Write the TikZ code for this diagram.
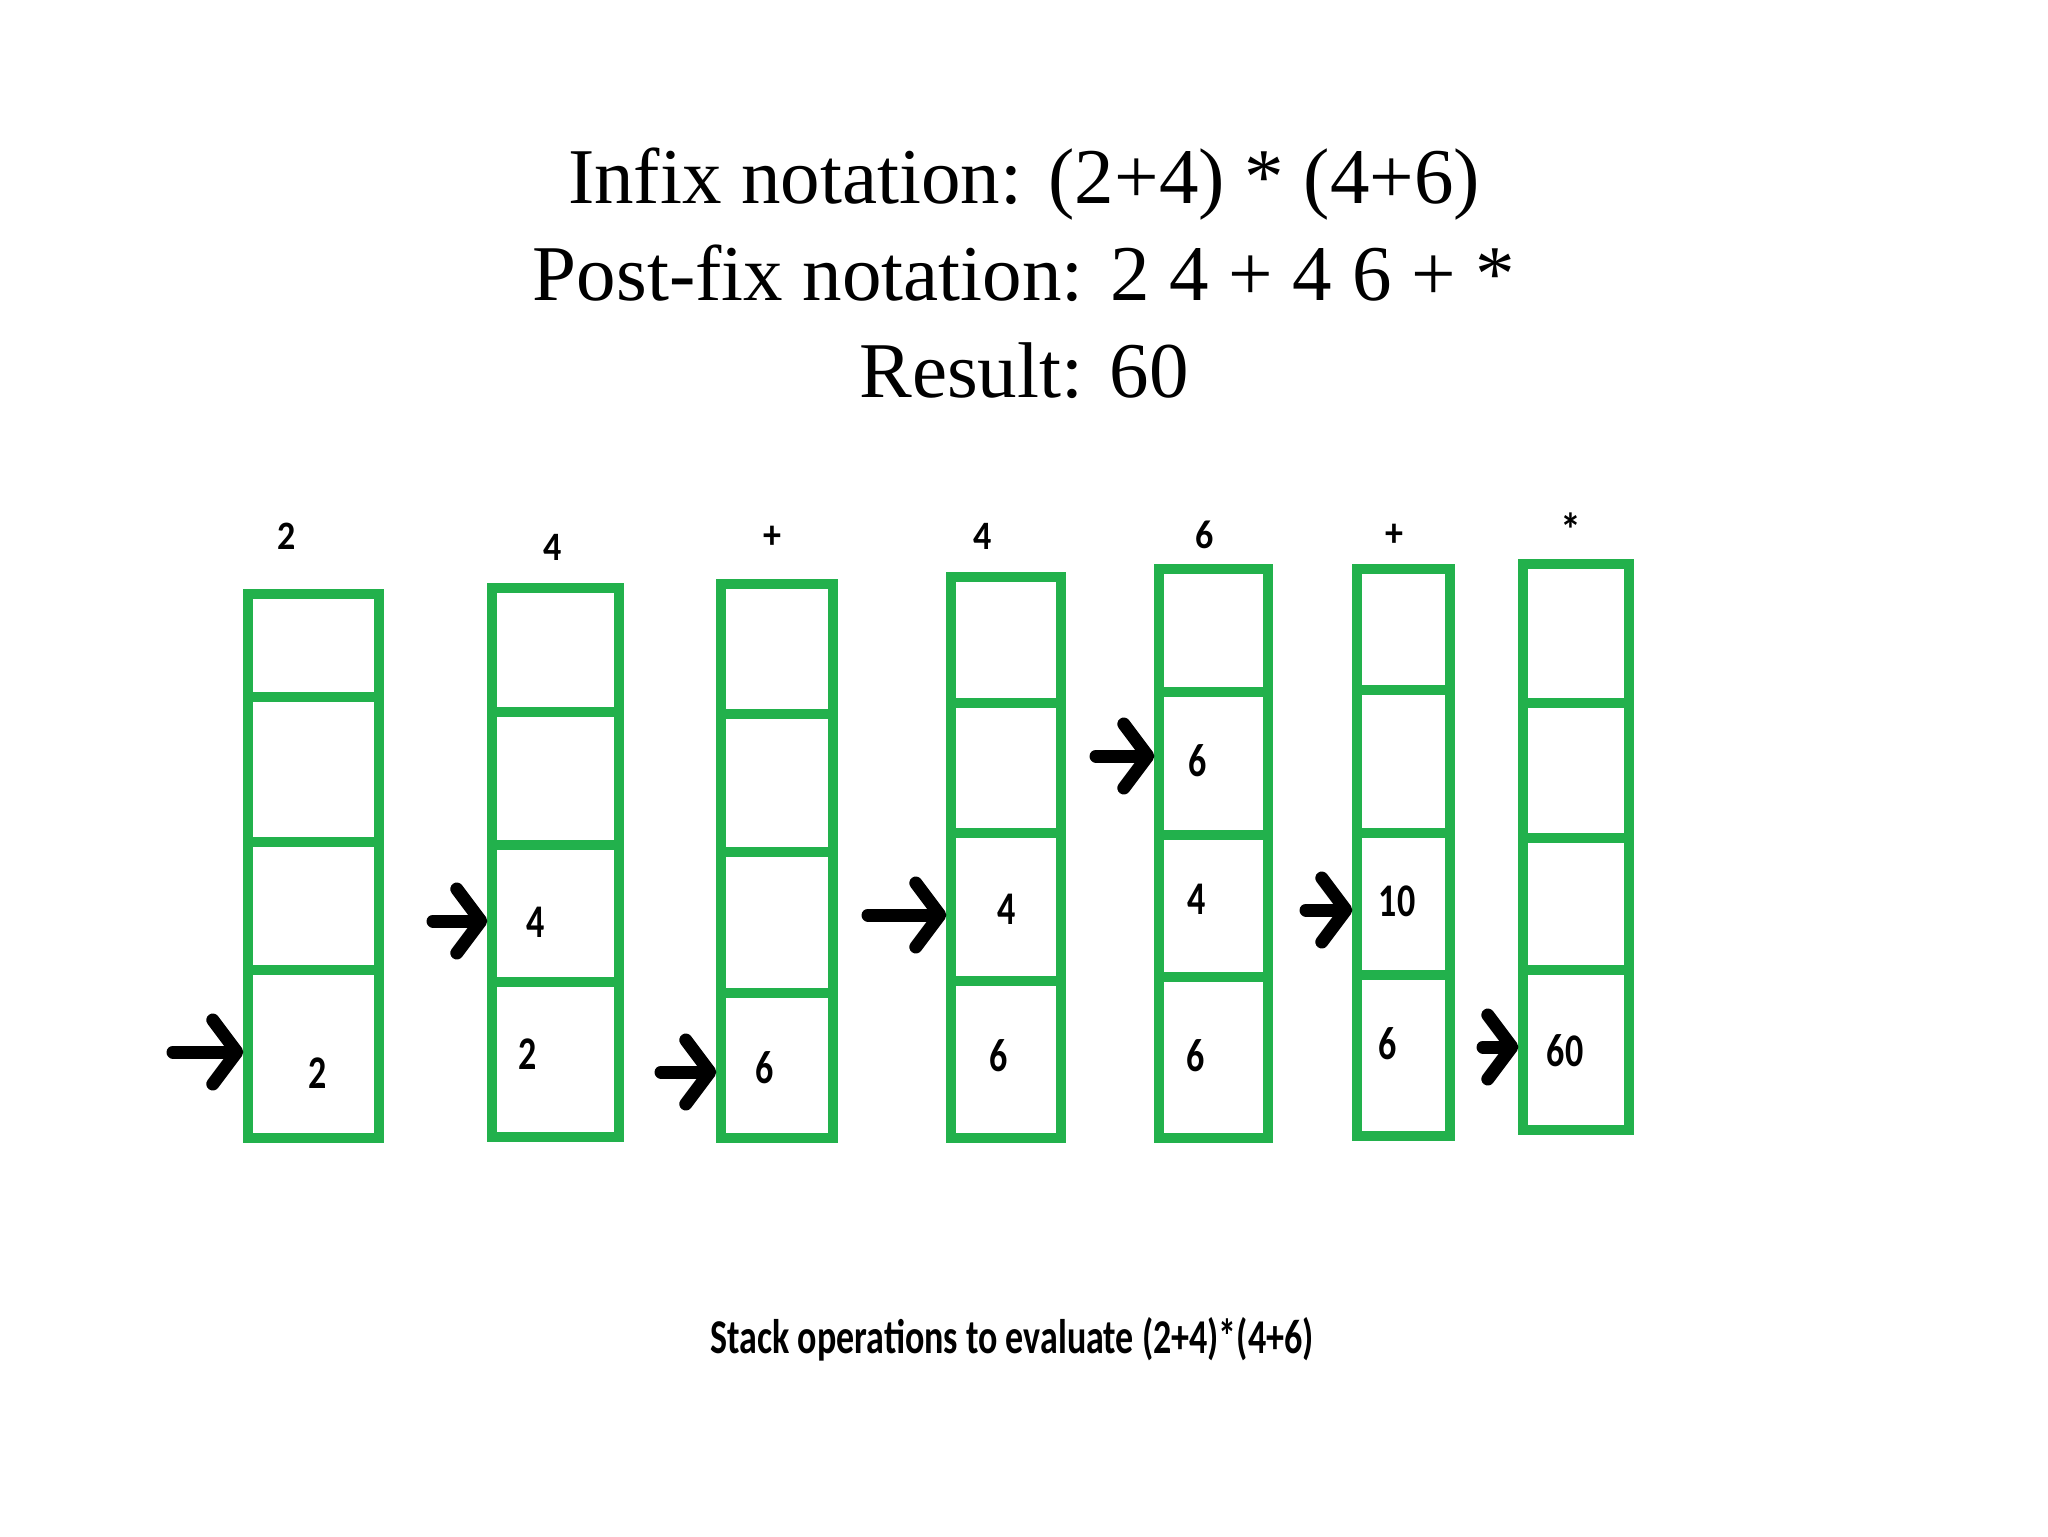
\documentclass[tikz,border=0pt]{standalone}
\usepackage{fontspec}
\usepackage{graphicx}
\setmainfont{Liberation Serif}
\newfontfamily\carl{Carlito}
\usetikzlibrary{arrows.meta,fit}
\definecolor{paintgreen}{RGB}{34,177,76}
\tikzset{
  cellbox/.style={draw=paintgreen, line width=4.7pt, inner sep=0pt},
  val/.style={font=\carl\bfseries\fontsize{18}{20}\selectfont, inner sep=0pt},
  lbl/.style={font=\carl\bfseries\fontsize{18}{20}\selectfont, inner sep=0pt},
  ttl/.style={font=\fontsize{39.5}{48}\selectfont, inner sep=0pt, anchor=base},
  captxt/.style={font=\carl\bfseries\fontsize{18}{20}\selectfont, inner sep=0pt, anchor=base},
  ptr/.style={line width=6.5pt, line cap=round, line join=round,
    -{Straight Barb[length=12pt,width=32pt,round]}}
}
\newcommand\tallv[1]{\scalebox{1}[1.3]{#1}}
\newcommand\talll[1]{\scalebox{1}[1.12]{#1}}
% stack: name, xl, xr, ytop, d1, d2, d3, ybottom
\newcommand\stackcol[8]{%
  \node[cellbox, fit={(#2,#4)(#3,#5)}] (s#1a) {};
  \node[cellbox, fit={(#2,#5)(#3,#6)}] (s#1b) {};
  \node[cellbox, fit={(#2,#6)(#3,#7)}] (s#1c) {};
  \node[cellbox, fit={(#2,#7)(#3,#8)}] (s#1d) {};
}
\begin{document}
\begin{tikzpicture}[x=0.5pt, y=-0.5pt]
\useasboundingbox (0,0) rectangle (2048,1536);
\fill[white] (0,0) rectangle (2048,1536);

% title
\node[ttl] (t1) at (1024,203) {Infix notation: (2+4) * (4+6)};
\node[ttl] (t2) at (1024,300) {Post-fix notation: 2 4 + 4 6 + *};
\node[ttl] (t3) at (1024,397) {Result: 60};

% stacks
\stackcol{1}{248}{379}{594}{697}{842}{970}{1138}
\stackcol{2}{492}{619}{588}{712}{845}{982}{1137}
\stackcol{3}{721}{833}{584}{714}{852}{993}{1138}
\stackcol{4}{951}{1061}{577}{703}{833}{981}{1138}
\stackcol{5}{1159}{1268}{569}{692}{835}{977}{1138}
\stackcol{6}{1357}{1450}{569}{690}{833}{975}{1136}
\stackcol{7}{1523}{1629}{564}{703}{838}{970}{1130}

% labels above stacks
\node[lbl] (l1) at (287,536) {\talll{2}};
\node[lbl] (l2) at (553,547) {\talll{4}};
\node[lbl] (l3) at (772,537) {\talll{+}};
\node[lbl] (l4) at (983,536) {\talll{4}};
\node[lbl] (l5) at (1205,535) {\talll{6}};
\node[lbl] (l6) at (1394,535) {\talll{+}};
\node[lbl, font=\carl\bfseries\fontsize{21}{23}\selectfont] (l7) at (1571,530) {\talll{*}};

% values in stacks
\node[val] (v1d) at (318,1073) {\tallv{2}};
\node[val] (v2c) at (536,922) {\tallv{4}};
\node[val] (v2d) at (528,1054) {\tallv{2}};
\node[val] (v3d) at (765,1068) {\tallv{6}};
\node[val] (v4c) at (1007,909) {\tallv{4}};
\node[val] (v4d) at (999,1056) {\tallv{6}};
\node[val] (v5b) at (1198,761) {\tallv{6}};
\node[val] (v5c) at (1197,899) {\tallv{4}};
\node[val] (v5d) at (1196,1056) {\tallv{6}};
\node[val] (v6c) at (1397,901) {\tallv{10}};
\node[val] (v6d) at (1388,1044) {\tallv{6}};
\node[val] (v7d) at (1565,1051) {\tallv{60}};

% pointers
\coordinate (a1) at (173,1052);
\coordinate (a2) at (433,921);
\coordinate (a3) at (661,1072);
\coordinate (a4) at (868,915);
\coordinate (a5) at (1096,756);
\coordinate (a6) at (1306,910);
\coordinate (a7) at (1483,1047);
\draw[ptr] (a1) -- (a1 -| s1d.west);
\draw[ptr] (a2) -- (a2 -| s2c.west);
\draw[ptr] (a3) -- (a3 -| s3d.west);
\draw[ptr] (a4) -- (a4 -| s4c.west);
\draw[ptr] (a5) -- (a5 -| s5b.west);
\draw[ptr] (a6) -- (a6 -| s6c.west);
\draw[ptr] (a7) -- (a7 -| s7d.west);

% caption
\node[captxt] (c) at (1012,1353) {\scalebox{1}[1.35]{Stack operations to evaluate (2+4)*(4+6)}};
\end{tikzpicture}
\end{document}
